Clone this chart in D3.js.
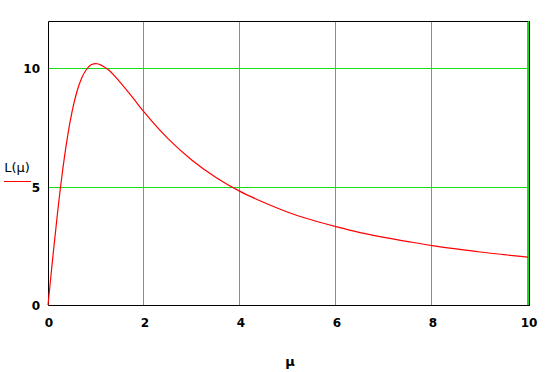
<!DOCTYPE html>
<html>
<head>
<meta charset="utf-8">
<script src="https://cdn.jsdelivr.net/npm/d3@7"></script>
<style>
  body { margin: 0; background: #fff; }
  text { font-family: "DejaVu Sans", sans-serif; font-weight: bold; fill: #000; }
</style>
</head>
<body>
<div id="chart"></div>
<script>
// values
let mu = [0, 0.1, 0.2, 0.3, 0.4, 0.5, 0.6, 0.7, 0.8, 0.9, 1.0, 1.25, 1.5, 1.75, 2.0,
          2.5, 3.0, 3.5, 4.0, 4.5, 5.0, 5.5, 6.0, 6.5, 7.0, 7.5, 8.0, 8.5, 9.0, 9.5, 10];
let L = [0, 2.02, 3.92, 5.61, 7.03, 8.16, 9.0, 9.58, 9.95, 10.15, 10.2, 9.95, 9.42, 8.8, 8.16,
         7.03, 6.12, 5.39, 4.8, 4.33, 3.92, 3.59, 3.31, 3.06, 2.86, 2.68, 2.51, 2.37, 2.24, 2.13, 2.02];
let xTicks = [0, 2, 4, 6, 8, 10];
let yTicks = [0, 5, 10];

// dimensions
let width = 546, height = 372;
let mLeft = 48, mRight = 528, mTop = 21, mBottom = 305;

let svg = d3.select("#chart")
    .append("svg")
    .attr("width", width)
    .attr("height", height);

let x = d3.scaleLinear().domain([0, 10]).range([mLeft, mRight]);
let y = d3.scaleLinear().domain([0, 12]).range([mBottom, mTop]);

let green = "#14e014";

// grid lines
svg.selectAll("xgrid")
    .data(xTicks.filter(d => d > 0))
    .enter()
    .append("line")
    .attr("x1", d => Math.round(x(d)) - 0.5)
    .attr("x2", d => Math.round(x(d)) - 0.5)
    .attr("y1", mTop)
    .attr("y2", mBottom)
    .attr("stroke", green)
    .attr("stroke-width", 1);

svg.selectAll("ygrid")
    .data(yTicks.filter(d => d > 0))
    .enter()
    .append("line")
    .attr("x1", mLeft)
    .attr("x2", mRight)
    .attr("y1", d => Math.round(y(d)) + 0.5)
    .attr("y2", d => Math.round(y(d)) + 0.5)
    .attr("stroke", green)
    .attr("stroke-width", 1);

// frame: left, top, bottom in black, thin black at right beside green
svg.append("path")
    .attr("d", "M" + (mRight + 1.5) + "," + (mTop + 0.5) + "H" + (mLeft + 0.5) + "V" + (mBottom + 0.5) + "H" + (mRight + 1.5))
    .attr("fill", "none")
    .attr("stroke", "#000")
    .attr("stroke-width", 1);
svg.append("line")
    .attr("x1", mRight + 0.5).attr("x2", mRight + 0.5)
    .attr("y1", mTop).attr("y2", mBottom)
    .attr("stroke", green);
svg.append("line")
    .attr("x1", mRight + 1.5).attr("x2", mRight + 1.5)
    .attr("y1", mTop).attr("y2", mBottom + 1)
    .attr("stroke", "#000");

// the curve
let line = d3.line()
    .x((d, i) => x(mu[i]))
    .y(d => y(d))
    .curve(d3.curveMonotoneX);

svg.append("path")
    .datum(L)
    .attr("d", line)
    .attr("fill", "none")
    .attr("stroke", "#ff0000")
    .attr("stroke-width", 1.2);

// tick labels
svg.selectAll("xlab")
    .data(xTicks)
    .enter()
    .append("text")
    .attr("x", d => x(d) + 1)
    .attr("y", 327)
    .attr("text-anchor", "middle")
    .style("font-size", "12px")
    .text(d => d);

svg.selectAll("ylab")
    .data(yTicks)
    .enter()
    .append("text")
    .attr("x", 40)
    .attr("y", d => y(d) + 5)
    .attr("text-anchor", "end")
    .style("font-size", "12px")
    .text(d => d);

// axis titles
svg.append("text")
    .attr("x", 17)
    .attr("y", 172)
    .attr("text-anchor", "middle")
    .style("font-size", "13px")
    .style("font-weight", "normal")
    .text("L(μ)");

svg.append("line")
    .attr("x1", 4).attr("x2", 31)
    .attr("y1", 181.5).attr("y2", 181.5)
    .attr("stroke", "#ff0000");

svg.append("text")
    .attr("x", 290)
    .attr("y", 366)
    .attr("text-anchor", "middle")
    .style("font-size", "13px")
    .text("μ");
</script>
</body>
</html>
